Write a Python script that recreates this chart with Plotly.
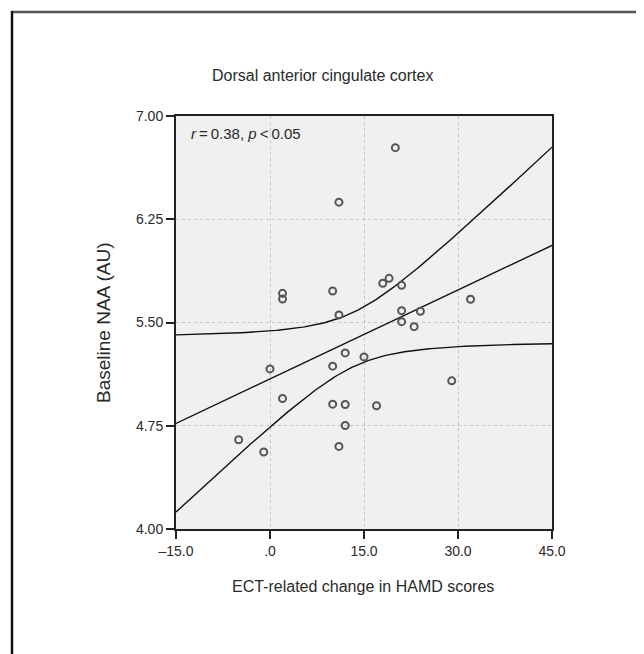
import numpy as np
import plotly.graph_objects as go

# ---- data ----
hamd_change = [20, 11, 2, 2, 10, 18, 19, 21, 32, 11, 21, 24, 21, 23,
               0, 12, 15, 10, 29, 2, 10, 12, 17, 12, 11, -1, -5]
naa_baseline = [6.77, 6.374, 5.712, 5.671, 5.729, 5.785, 5.821, 5.77, 5.669, 5.555,
                5.586, 5.582, 5.506, 5.470, 5.163, 5.279, 5.25, 5.183, 5.076, 4.948,
                4.907, 4.904, 4.895, 4.752, 4.600, 4.559, 4.648]
x_ticks = [-15, 0, 15, 30, 45]
x_tick_labels = ["\u201315.0", ".0", "15.0", "30.0", "45.0"]
y_ticks = [4.00, 4.75, 5.50, 6.25, 7.00]
y_tick_labels = ["4.00", "4.75", "5.50", "6.25", "7.00"]
title_text = "Dorsal anterior cingulate cortex"
x_title = "ECT-related change in HAMD scores"
y_title = "Baseline NAA (AU)"
stat_text = "<i>r</i>\u2009=\u20090.38, <i>p</i>\u2009<\u20090.05"

# ---- linear fit and 95% CI of the mean (computed from data) ----
x = np.array(hamd_change, float)
y = np.array(naa_baseline, float)
n = len(x)
b, a = np.polyfit(x, y, 1)
resid = y - (a + b * x)
s = np.sqrt(np.sum(resid ** 2) / (n - 2))
sxx = np.sum((x - x.mean()) ** 2)
t = 2.0595  # t(0.975, 25)
xg = np.linspace(-15, 45, 200)
yfit = a + b * xg
se = s * np.sqrt(1 / n + (xg - x.mean()) ** 2 / sxx)
upper = yfit + t * se
lower = yfit - t * se

# page has an 8px body margin, so the figure is made 8px smaller
OFF = 8
W, H = 636, 646
L, R, T, B = 168, 92, 108, 125
pw, ph = W - L - R, H - T - B

def px(xs):  # screen x -> paper x
    return (xs - OFF - L) / pw

def py(ys):  # screen y -> paper y
    return (H - B - (ys - OFF)) / ph

FONT = "Liberation Sans, Arial, sans-serif"
TXT = "#2a2a2a"

fig = go.Figure()
for yy in (upper, lower, yfit):
    fig.add_trace(go.Scatter(x=xg, y=yy, mode="lines",
                             line=dict(color="#111111", width=1.4),
                             hoverinfo="skip", showlegend=False))
fig.add_trace(go.Scatter(x=hamd_change, y=naa_baseline, mode="markers",
                         marker=dict(symbol="circle-open", size=7,
                                     color="#555555",
                                     line=dict(width=2, color="#555555")),
                         showlegend=False))

axis_common = dict(showline=True, linecolor="#222222", linewidth=2, mirror=True,
                   ticks="outside", ticklen=8, tickwidth=1.5, tickcolor="#222222",
                   showgrid=True, gridcolor="#c4c4c4", griddash="3px,3px", gridwidth=1,
                   zeroline=False, tickfont=dict(family=FONT, size=14, color=TXT),
                   automargin=False)

fig.update_xaxes(range=[-15, 45], tickvals=x_ticks, ticktext=x_tick_labels, **axis_common)
fig.update_yaxes(range=[4.0, 7.0], tickvals=y_ticks, ticktext=y_tick_labels, **axis_common)

fig.update_layout(
    width=W, height=H,
    margin=dict(l=L, r=R, t=T, b=B, pad=0),
    plot_bgcolor="#f0f0f0", paper_bgcolor="white",
    font=dict(family=FONT, color=TXT),
    showlegend=False,
    annotations=[
        dict(text=title_text, xref="paper", yref="paper", x=px(322), y=py(75),
             xanchor="center", yanchor="middle", showarrow=False,
             font=dict(size=16, family=FONT, color=TXT)),
        dict(text=x_title, xref="paper", yref="paper", x=px(363), y=py(586),
             xanchor="center", yanchor="middle", showarrow=False,
             font=dict(size=16, family=FONT, color=TXT)),
        dict(text=y_title, xref="paper", yref="paper", x=px(103), y=py(323),
             xanchor="center", yanchor="middle", showarrow=False, textangle=-90,
             font=dict(size=19, family=FONT, color=TXT)),
        dict(text=stat_text, xref="paper", yref="paper", x=px(189), y=py(133),
             xanchor="left", yanchor="middle", showarrow=False,
             font=dict(size=15, family=FONT, color=TXT)),
    ],
    shapes=[
        dict(type="line", xref="paper", yref="paper", x0=px(11), x1=px(660),
             y0=py(12), y1=py(12), line=dict(color="#555555", width=2.5)),
        dict(type="line", xref="paper", yref="paper", x0=px(12), x1=px(12),
             y0=py(11), y1=py(670), line=dict(color="#111111", width=2.5)),
    ],
)

fig.write_html("out.html")
